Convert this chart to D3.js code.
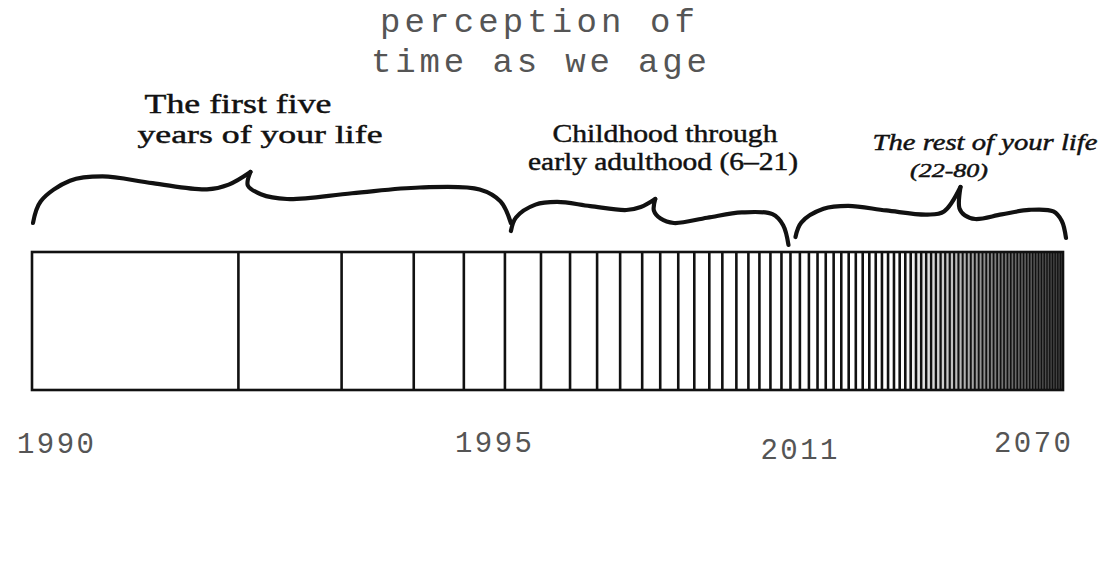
<!DOCTYPE html>
<html>
<head>
<meta charset="utf-8">
<script src="https://cdn.jsdelivr.net/npm/d3@7"></script>
<style>
  html, body { margin: 0; padding: 0; background: #ffffff; }
  svg { display: block; }
</style>
</head>
<body>
<svg id="chart" width="1116" height="565"></svg>
<script>
// ---------------- DATA ----------------
// Perceived length of each year of life, ages 1..80 (arbitrary units)
const perceivedYearLength = [
  206, 103, 72, 50, 41, 36, 29, 27, 23, 22,
  18, 18, 16, 15, 13, 14, 12, 11, 11, 11,
  9, 9.4, 9.0, 8.6, 8.2, 7.9, 7.6, 7.4, 7.1, 6.9,
  6.6, 6.4, 6.2, 6.1, 5.9, 5.7, 5.6, 5.4, 5.3, 5.15,
  5.0, 4.9, 4.8, 4.7, 4.6, 4.5, 4.4, 4.3, 4.2, 4.1,
  4.0, 4.0, 3.9, 3.8, 3.75, 3.7, 3.6, 3.55, 3.5, 3.4,
  3.4, 3.3, 3.3, 3.2, 3.2, 3.1, 3.1, 3.0, 3.0, 2.9,
  2.9, 2.9, 2.8, 2.8, 2.75, 2.7, 2.7, 2.6, 2.6, 2.6
];
// Tick labels (calendar years) and the age each one marks
const tickLabels = ["1990", "1995", "2011", "2070"];
const tickAges   = [0, 5, 21, 80];
// Life periods (age ranges) and their captions
const periodStart = [0, 5, 21];
const periodEnd   = [5, 21, 80];
const periodCaptions = [
  ["The first five", "years of your life"],
  ["Childhood through", "early adulthood (6\u201321)"],
  ["The rest of your life", "(22-80)"]
];
const titleLines = ["perception of", "time as we age"];

// ---------------- DRAWING ----------------
const svg = d3.select("#chart");
const cum = [0, ...d3.cumsum(perceivedYearLength)];
const total = cum[cum.length - 1];
const x = d3.scaleLinear().domain([0, total]).range([32, 1063]);
const xAge = a => x(cum[a]);
const barTop = 252, barBottom = 390;

// shading of the dense end of the bar
const defs = svg.append("defs");
const grad = defs.append("linearGradient").attr("id", "shade")
  .attr("gradientUnits", "userSpaceOnUse")
  .attr("x1", xAge(36)).attr("x2", xAge(80)).attr("y1", 0).attr("y2", 0);
grad.append("stop").attr("offset", "0").attr("stop-color", "#ffffff");
grad.append("stop").attr("offset", "0.35").attr("stop-color", "#bdbdbd");
grad.append("stop").attr("offset", "0.6").attr("stop-color", "#7a7a7a");
grad.append("stop").attr("offset", "1").attr("stop-color", "#3c3c3c");
svg.append("rect")
  .attr("x", xAge(36)).attr("y", barTop)
  .attr("width", xAge(80) - xAge(36)).attr("height", barBottom - barTop)
  .attr("fill", "url(#shade)");

// year divider lines
const boundaries = d3.range(1, perceivedYearLength.length);
svg.append("g").selectAll("line")
  .data(boundaries)
  .join("line")
  .attr("x1", d => x(cum[d])).attr("x2", d => x(cum[d]))
  .attr("y1", barTop).attr("y2", barBottom)
  .attr("stroke", "#111")
  .attr("stroke-width", d => {
    const w = x(cum[d + 1]) - x(cum[d]);
    return Math.min(2.6, Math.max(1.3, w * 0.5));
  });

// bar outline
svg.append("rect")
  .attr("x", x(0)).attr("y", barTop)
  .attr("width", x(total) - x(0)).attr("height", barBottom - barTop)
  .attr("fill", "none").attr("stroke", "#111").attr("stroke-width", 2.6);

// curly braces over each period
const braceStyle = [
  { dx0: 1, dx1: 6, tip: 0.455, yL: 223, yR: 223, yTip: 172, armL: 48, armR: 48 },
  { dx0: 6, dx1: -2, tip: 0.52, yL: 231, yR: 245, yTip: 199, armL: 30, armR: 44 },
  { dx0: 5, dx1: 3, tip: 0.61, yL: 237, yR: 238, yTip: 187, armL: 32, armR: 38 }
];
const leftShape  = [[0, 0], [0.035, 0.45], [0.17, 0.88], [0.32, 0.97], [0.55, 0.83], [0.8, 0.7], [0.9, 0.8], [1, 1]];
const rightShape = [[-0.01, 0.78], [0.04, 0.6], [0.14, 0.5], [0.39, 0.62], [0.65, 0.74], [0.88, 0.7], [0.96, 0.45], [1, 0]];
const braceLine = d3.line().curve(d3.curveCatmullRom.alpha(0.5));
periodStart.forEach((s, i) => {
  const st = braceStyle[i];
  const x0 = xAge(s) + st.dx0, x1 = xAge(periodEnd[i]) + st.dx1;
  const xt = x0 + (x1 - x0) * st.tip;
  const pts = leftShape.map(([u, v]) =>
    [x0 + (xt - x0) * u, u === 1 ? st.yTip : st.yL - v * st.armL]);
  const pts2 = [[xt, st.yTip]].concat(rightShape.map(([u, v]) =>
    [xt + (x1 - xt) * u, st.yR - v * st.armR]));
  [pts, pts2].forEach(p => {
    svg.append("path").attr("d", braceLine(p)).attr("fill", "none")
      .attr("stroke", "#111").attr("stroke-width", 4.2)
      .attr("stroke-linecap", "round").attr("stroke-linejoin", "round");
  });
});

// period captions
const captionStyle = [
  [{ cx: 238, y: 113, size: 28, w: 187, italic: false }, { cx: 260, y: 143, size: 25, w: 245, italic: false }],
  [{ cx: 665, y: 142, size: 26, w: 225, italic: false }, { cx: 663, y: 170, size: 25, w: 270, italic: false }],
  [{ cx: 985, y: 150, size: 23, w: 225, italic: true }, { cx: 949, y: 177, size: 18, w: 78, italic: true }]
];
periodCaptions.forEach((lines, i) => {
  lines.forEach((t, j) => {
    const c = captionStyle[i][j];
    svg.append("text")
      .attr("x", c.cx - c.w / 2).attr("y", c.y)
      .attr("textLength", c.w).attr("lengthAdjust", "spacingAndGlyphs")
      .attr("font-family", "'Liberation Serif', 'DejaVu Serif', serif")
      .attr("font-style", c.italic ? "italic" : "normal")
      .attr("font-size", c.size)
      .attr("fill", "#111")
      .attr("stroke", "#111").attr("stroke-width", 0.45)
      .text(t);
  });
});

// title
const titleStyle = [{ x: 380, y: 32, w: 315 }, { x: 371, y: 72, w: 336 }];
titleLines.forEach((t, i) => {
  const s = titleStyle[i];
  svg.append("text")
    .attr("x", s.x).attr("y", s.y)
    .attr("textLength", s.w).attr("lengthAdjust", "spacing")
    .attr("font-family", "'Liberation Mono', 'DejaVu Sans Mono', monospace")
    .attr("font-size", 34)
    .attr("fill", "#555")
    .text(t);
});

// year tick labels
const tickDx = [23, -12, 8, -31];
const tickDy = [453, 452, 459, 452];
svg.append("g").selectAll("text")
  .data(tickLabels)
  .join("text")
  .attr("x", (d, i) => xAge(tickAges[i]) + tickDx[i] - 38)
  .attr("y", (d, i) => tickDy[i])
  .attr("textLength", 77).attr("lengthAdjust", "spacing")
  .attr("font-family", "'Liberation Mono', 'DejaVu Sans Mono', monospace")
  .attr("font-size", 29)
  .attr("fill", "#555")
  .text(d => d);
</script>
</body>
</html>
